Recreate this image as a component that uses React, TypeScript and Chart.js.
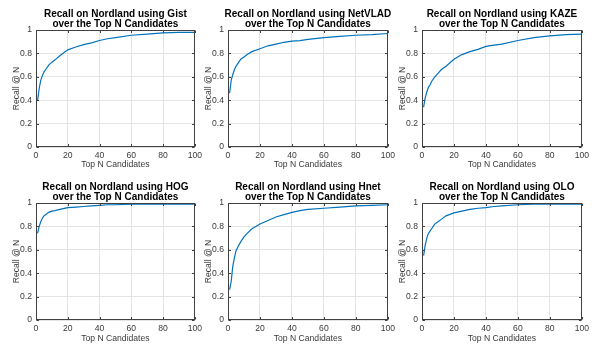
import React, { useEffect, useRef } from "react";
import { Chart, registerables } from "chart.js";

Chart.register(...registerables);

const topN = [1, 2, 3, 4, 5, 6, 8, 10, 12, 15, 20, 25, 30, 35, 40, 45, 50, 60, 70, 80, 90, 100];

const gistRecall = [0.40, 0.50, 0.57, 0.61, 0.64, 0.66, 0.70, 0.725, 0.745, 0.78, 0.83, 0.855, 0.875, 0.89, 0.91, 0.925, 0.935, 0.955, 0.965, 0.975, 0.98, 0.98];
const netvladRecall = [0.46, 0.57, 0.62, 0.66, 0.69, 0.71, 0.75, 0.77, 0.79, 0.815, 0.84, 0.865, 0.88, 0.895, 0.905, 0.91, 0.92, 0.935, 0.945, 0.955, 0.96, 0.97];
const kazeRecall = [0.34, 0.42, 0.47, 0.51, 0.53, 0.56, 0.60, 0.63, 0.66, 0.69, 0.75, 0.79, 0.815, 0.835, 0.86, 0.87, 0.88, 0.91, 0.935, 0.95, 0.96, 0.965];
const hogRecall = [0.74, 0.80, 0.84, 0.87, 0.89, 0.90, 0.92, 0.93, 0.935, 0.945, 0.96, 0.965, 0.97, 0.975, 0.98, 0.985, 0.985, 0.99, 0.99, 0.99, 0.99, 0.99];
const hnetRecall = [0.26, 0.33, 0.46, 0.53, 0.59, 0.62, 0.67, 0.71, 0.74, 0.78, 0.82, 0.85, 0.88, 0.90, 0.92, 0.935, 0.945, 0.955, 0.965, 0.975, 0.98, 0.985];
const oloRecall = [0.55, 0.64, 0.70, 0.74, 0.76, 0.78, 0.82, 0.84, 0.86, 0.89, 0.915, 0.93, 0.945, 0.955, 0.96, 0.97, 0.975, 0.985, 0.99, 0.99, 0.99, 0.99];

const methods = ["Gist", "NetVLAD", "KAZE", "HOG", "Hnet", "OLO"];
const seriesList = [gistRecall, netvladRecall, kazeRecall, hogRecall, hnetRecall, oloRecall];

const xTitle = "Top N Candidates";
const yTitle = "Recall @ N";

const FONT = "'Liberation Sans', Arial, Helvetica, sans-serif";
const TEXT = "#3a3a3a";

const panels = [
  { left: 0, top: 0, width: 205, height: 173 },
  { left: 192, top: 0, width: 206, height: 173 },
  { left: 386, top: 0, width: 206, height: 173 },
  { left: 0, top: 173, width: 205, height: 174 },
  { left: 192, top: 173, width: 206, height: 174 },
  { left: 386, top: 173, width: 206, height: 174 },
];

const framePlugin = {
  id: "matlabFrame",
  afterDraw(chart: any) {
    const { ctx, chartArea } = chart;
    const l = Math.round(chartArea.left) + 0.5;
    const r = Math.round(chartArea.right) - 0.5;
    const t = Math.round(chartArea.top) + 0.5;
    const b = Math.round(chartArea.bottom) - 0.5;
    ctx.save();
    ctx.strokeStyle = "#404040";
    ctx.lineWidth = 1;
    ctx.strokeRect(l, t, r - l, b - t);
    const tl = 2.5;
    ctx.beginPath();
    const xs = chart.scales.x;
    xs.ticks.forEach((tk: any) => {
      const px = Math.round(xs.getPixelForValue(tk.value)) + 0.5;
      ctx.moveTo(px, b);
      ctx.lineTo(px, b - tl);
      ctx.moveTo(px, t);
      ctx.lineTo(px, t + tl);
    });
    const ys = chart.scales.y;
    ys.ticks.forEach((tk: any) => {
      const py = Math.round(ys.getPixelForValue(tk.value)) + 0.5;
      ctx.moveTo(l, py);
      ctx.lineTo(l + tl, py);
      ctx.moveTo(r, py);
      ctx.lineTo(r - tl, py);
    });
    ctx.stroke();
    const title = chart.options.plugins.panelTitle;
    if (title) {
      const cx = (chartArea.left + chartArea.right) / 2;
      ctx.fillStyle = "#000";
      ctx.font = `bold 10px ${FONT}`;
      ctx.textAlign = "center";
      ctx.textBaseline = "middle";
      ctx.fillText(title[0], cx, 14);
      ctx.fillText(title[1], cx, 24.5);
    }
    ctx.restore();
  },
};

function fmt(v: number) {
  return String(parseFloat(Number(v).toFixed(2)));
}

function Panel({ idx }: { idx: number }) {
  const ref = useRef<HTMLCanvasElement>(null);
  useEffect(() => {
    if (!ref.current) return;
    const p = panels[idx];
    const data = topN.map((n, i) => ({ x: n, y: seriesList[idx][i] }));
    const chart = new Chart(ref.current, {
      type: "line",
      data: {
        datasets: [
          {
            data,
            borderColor: "#0072BD",
            borderWidth: 1.2,
            pointRadius: 0,
            tension: 0,
            fill: false,
          },
        ],
      },
      options: {
        animation: false,
        responsive: false,
        maintainAspectRatio: false,
        events: [],
        layout: { padding: { top: 30, right: 10, left: 0, bottom: 0 } },
        plugins: {
          legend: { display: false },
          tooltip: { enabled: false },
          title: { display: false },
          panelTitle: [`Recall on Nordland using ${methods[idx]}`, "over the Top N Candidates"],
        } as any,
        scales: {
          x: {
            type: "linear",
            min: 0,
            max: 100,
            ticks: {
              stepSize: 20,
              padding: 3,
              color: TEXT,
              font: { family: FONT, size: 8.6 },
              maxRotation: 0,
              callback: (v: any) => fmt(v),
            },
            grid: { color: "#e3e3e3", drawTicks: false, lineWidth: 1 },
            border: { display: false },
            title: {
              display: true,
              text: xTitle,
              color: TEXT,
              font: { family: FONT, size: 8.6 },
              padding: { top: 0, bottom: 3 },
            },
            afterFit: (s: any) => {
              s.height = p.height - 30 - 117;
            },
          },
          y: {
            type: "linear",
            min: 0,
            max: 1,
            ticks: {
              stepSize: 0.2,
              padding: 4,
              color: TEXT,
              font: { family: FONT, size: 8.6 },
              callback: (v: any) => fmt(v),
            },
            grid: { color: "#e3e3e3", drawTicks: false, lineWidth: 1 },
            border: { display: false },
            title: {
              display: true,
              text: yTitle,
              color: TEXT,
              font: { family: FONT, size: 8.6 },
              padding: { top: 11, bottom: 0 },
            },
            afterFit: (s: any) => {
              s.width = 36;
            },
          },
        },
      },
      plugins: [framePlugin],
    });
    return () => chart.destroy();
  }, [idx]);
  const p = panels[idx];
  return (
    <canvas
      ref={ref}
      width={p.width}
      height={p.height}
      style={{ position: "absolute", left: p.left, top: p.top, width: p.width, height: p.height }}
    />
  );
}

export default function App() {
  return (
    <div
      style={{
        position: "fixed",
        left: 0,
        top: 0,
        width: 592,
        height: 347,
        background: "#fff",
        overflow: "hidden",
      }}
    >
      {panels.map((_, i) => (
        <Panel key={i} idx={i} />
      ))}
    </div>
  );
}
